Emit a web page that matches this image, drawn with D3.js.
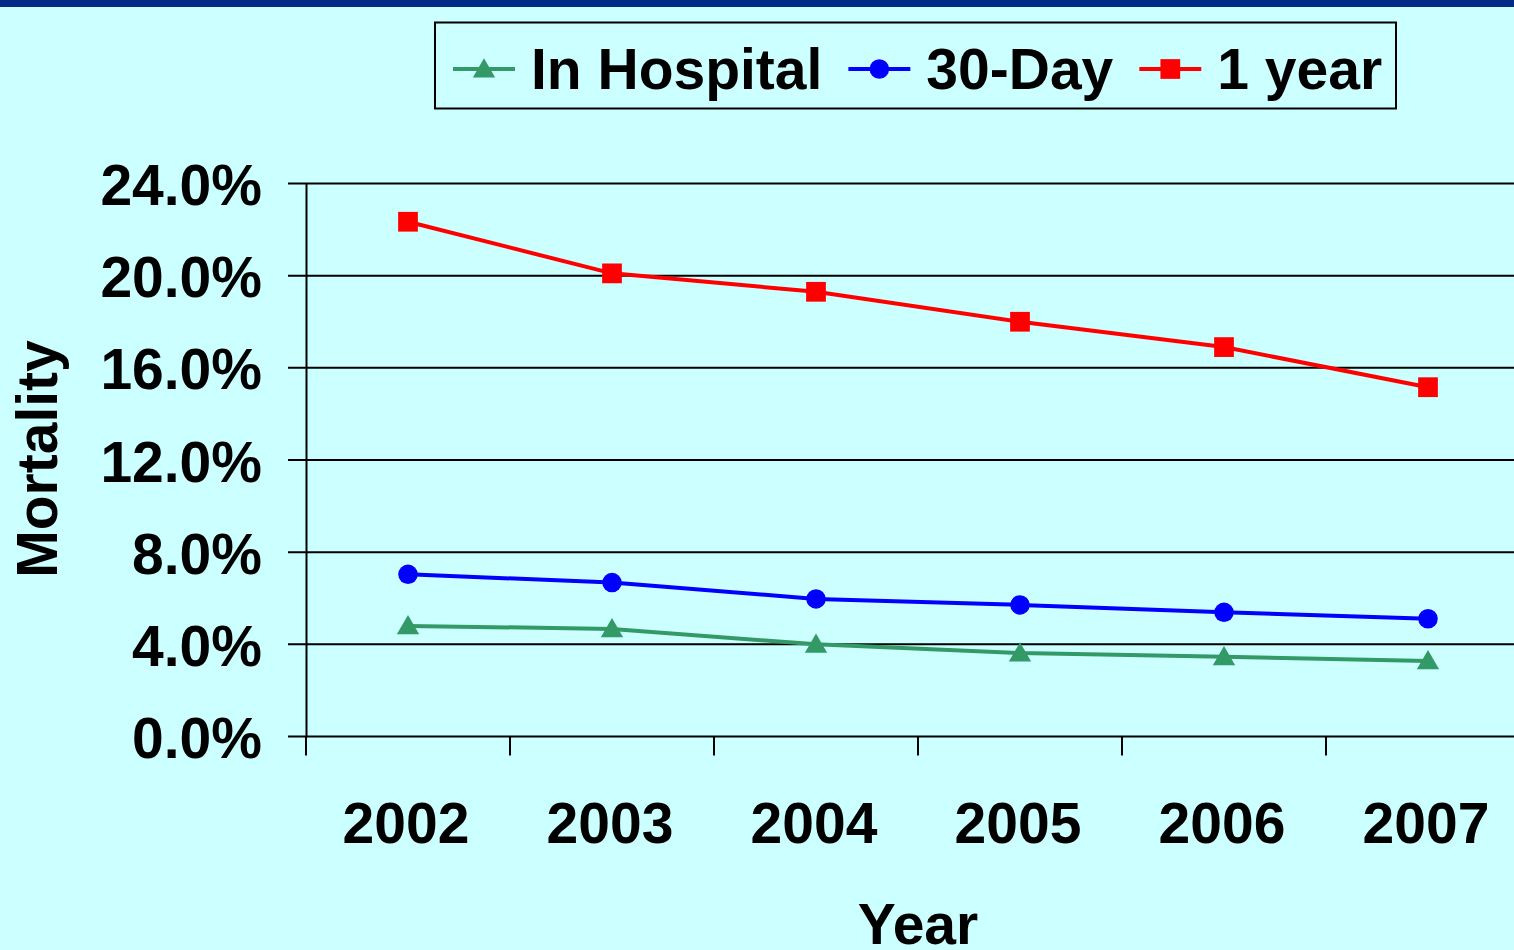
<!DOCTYPE html>
<html>
<head>
<meta charset="utf-8">
<script src="https://cdn.jsdelivr.net/npm/d3@7"></script>
<style>
  html, body { margin: 0; padding: 0; background: #ccffff; overflow: hidden; }
  svg { display: block; font-family: "Liberation Sans", Arial, sans-serif; font-weight: bold; }
</style>
</head>
<body>
<div id="chart"></div>
<script>
const years = ["2002", "2003", "2004", "2005", "2006", "2007"];
const inHospital = [4.8, 4.67, 4.0, 3.62, 3.46, 3.28];
const thirtyDay = [7.04, 6.68, 5.97, 5.71, 5.39, 5.11];
const oneYear = [22.34, 20.1, 19.3, 18.0, 16.9, 15.16];
const yTicks = [0, 4, 8, 12, 16, 20, 24];

const series = [
  { name: "In Hospital", values: inHospital, color: "#339966", marker: "triangle" },
  { name: "30-Day", values: thirtyDay, color: "#0000ff", marker: "circle" },
  { name: "1 year", values: oneYear, color: "#ff0000", marker: "square" },
];

const width = 1514;
const height = 950;
const fontSize = 57;

const svg = d3
  .select("#chart")
  .append("svg")
  .attr("width", width)
  .attr("height", height);

svg.append("rect").attr("width", width).attr("height", height).attr("fill", "#ccffff");
svg.append("rect").attr("width", width).attr("height", 7).attr("fill", "#002c88");

// scales
const xScale = d3.scaleBand().domain(years).range([306, 306 + 204 * years.length]);
const yScale = d3.scaleLinear().domain([0, 24]).range([736.5, 183.5]);

// gridlines
svg
  .append("g")
  .selectAll("line")
  .data(yTicks)
  .enter()
  .append("line")
  .attr("x1", 288)
  .attr("x2", width)
  .attr("y1", (d) => yScale(d))
  .attr("y2", (d) => yScale(d))
  .attr("stroke", "#000")
  .attr("stroke-width", 2);

// y axis
const yAxis = d3
  .axisLeft(yScale)
  .tickValues(yTicks)
  .tickSize(0)
  .tickPadding(44)
  .tickFormat((d) => d3.format(".1f")(d) + "%");

const yG = svg.append("g").attr("transform", "translate(306,0)").call(yAxis);
yG.select(".domain").attr("stroke", "#000").attr("stroke-width", 2);
yG.selectAll("text")
  .attr("font-size", fontSize)
  .attr("font-family", "Liberation Sans, Arial, sans-serif")
  .attr("font-weight", "bold")
  .attr("fill", "#000")
  .attr("dy", "0.37em");

// x axis
const xAxis = d3.axisBottom(xScale).tickSize(0).tickPadding(66);
const xG = svg.append("g").attr("transform", `translate(-2,${yScale(0)})`).call(xAxis);
xG.select(".domain").remove();
xG.selectAll("text")
  .attr("font-size", fontSize)
  .attr("font-family", "Liberation Sans, Arial, sans-serif")
  .attr("font-weight", "bold")
  .attr("fill", "#000")
  .attr("dy", "0.71em");

// x tick marks at band boundaries
svg
  .append("g")
  .selectAll("line")
  .data(years)
  .enter()
  .append("line")
  .attr("x1", (d) => xScale(d))
  .attr("x2", (d) => xScale(d))
  .attr("y1", yScale(0))
  .attr("y2", yScale(0) + 19)
  .attr("stroke", "#000")
  .attr("stroke-width", 2);

// axis titles
svg
  .append("text")
  .attr("x", 918)
  .attr("y", 944)
  .attr("text-anchor", "middle")
  .attr("font-size", fontSize)
  .text("Year");

svg
  .append("text")
  .attr("transform", "translate(57,459) rotate(-90)")
  .attr("text-anchor", "middle")
  .attr("font-size", fontSize)
  .text("Mortality");

// marker shapes
const symbolFor = {
  triangle: d3.symbol().type(d3.symbolTriangle).size(215),
  circle: d3.symbol().type(d3.symbolCircle).size(300),
  square: d3.symbol().type(d3.symbolSquare).size(390),
};

const cx = (i) => xScale(years[i]) + xScale.bandwidth() / 2;

const line = d3
  .line()
  .x((d, i) => cx(i))
  .y((d) => yScale(d));

series.forEach((s) => {
  svg
    .append("path")
    .datum(s.values)
    .attr("d", line)
    .attr("fill", "none")
    .attr("stroke", s.color)
    .attr("stroke-width", 4);

  svg
    .append("g")
    .selectAll("path")
    .data(s.values)
    .enter()
    .append("path")
    .attr("d", symbolFor[s.marker])
    .attr("transform", (d, i) => `translate(${cx(i)},${yScale(d) + (s.marker === "triangle" ? 2 : 0)})`)
    .attr("fill", s.color);
});

// legend
const legend = svg.append("g");
legend
  .append("rect")
  .attr("x", 435)
  .attr("y", 22.5)
  .attr("width", 961)
  .attr("height", 86)
  .attr("fill", "none")
  .attr("stroke", "#000")
  .attr("stroke-width", 2);

let lx = 453;
series.forEach((s) => {
  legend
    .append("line")
    .attr("x1", lx)
    .attr("x2", lx + 62)
    .attr("y1", 69)
    .attr("y2", 69)
    .attr("stroke", s.color)
    .attr("stroke-width", 4);
  legend
    .append("path")
    .attr("d", symbolFor[s.marker])
    .attr("transform", `translate(${lx + 31},${69 + (s.marker === "triangle" ? 2 : 0)})`)
    .attr("fill", s.color);
  const t = legend
    .append("text")
    .attr("x", lx + 78)
    .attr("y", 89)
    .attr("font-size", fontSize)
    .text(s.name);
  lx += 78 + t.node().getComputedTextLength() + 26;
});
</script>
</body>
</html>
